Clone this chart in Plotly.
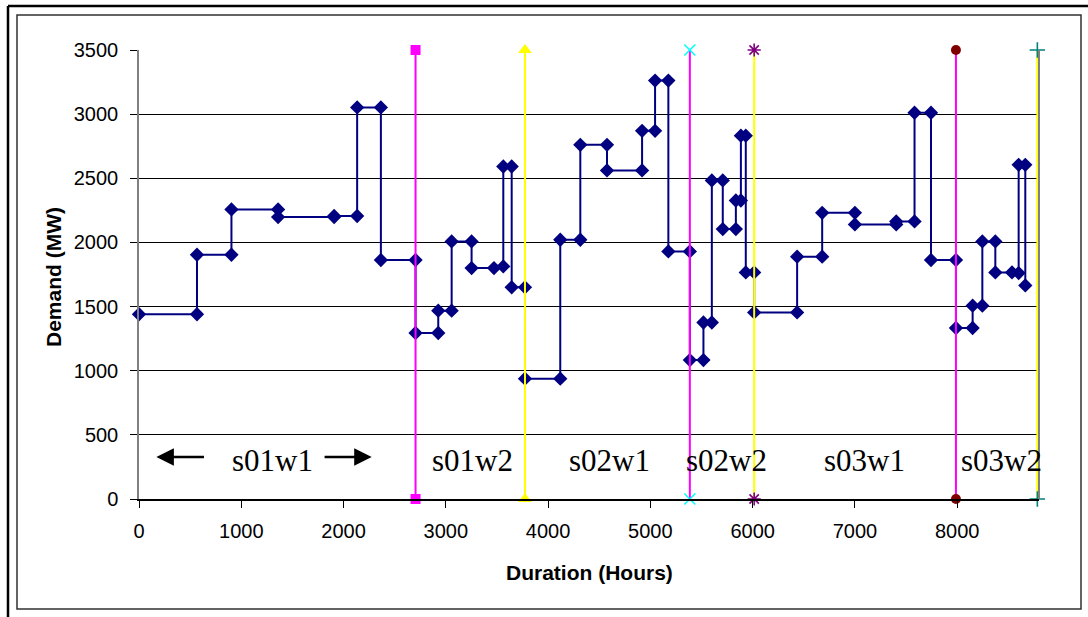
import plotly.graph_objects as go

# ---- data ----
duration_hours = [0, 567, 567, 904, 904, 1360, 1360, 1908, 1908, 2133, 2133, 2365,
                  2365, 2704, 2704, 2926, 2926, 3057, 3057, 3252, 3252, 3471, 3562,
                  3562, 3644, 3644, 3774, 3774, 4119, 4119, 4315, 4315, 4576, 4576,
                  4919, 4919, 5046, 5046, 5176, 5176, 5386, 5386, 5519, 5519, 5601,
                  5601, 5708, 5708, 5836, 5836, 5885, 5885, 5933, 5933, 6015, 6015,
                  6435, 6435, 6680, 6680, 7000, 7000, 7404, 7404, 7583, 7583, 7744,
                  7744, 7988, 7988, 8151, 8151, 8246, 8246, 8373, 8373, 8536, 8601,
                  8601, 8666, 8666]
demand_mw = [1440, 1440, 1904, 1904, 2257, 2257, 2198, 2198, 2206, 2206, 3052, 3052,
             1863, 1863, 1294, 1294, 1468, 1468, 2008, 2008, 1800, 1800, 1813,
             2592, 2592, 1650, 1650, 938, 938, 2021, 2021, 2761, 2761, 2561,
             2561, 2870, 2870, 3262, 3262, 1930, 1930, 1083, 1083, 1376, 1376,
             2483, 2483, 2104, 2104, 2327, 2327, 2832, 2832, 1766, 1766, 1454,
             1454, 1889, 1889, 2231, 2231, 2140, 2140, 2164, 2164, 3011, 3011,
             1863, 1863, 1333, 1333, 1507, 1507, 2008, 2008, 1766, 1766, 1761,
             2605, 2605, 1665]

boundary_hours = [2704, 3774, 5386, 6015, 7988, 8784]
boundary_range = [0, 3500]

period_labels = ["s01w1", "s01w2", "s02w1", "s02w2", "s03w1", "s03w2"]
period_label_x = [1304, 3265, 4596, 5741, 7096, 8431]
period_label_y = 302

x_ticks = [0, 1000, 2000, 3000, 4000, 5000, 6000, 7000, 8000]
y_ticks = [0, 500, 1000, 1500, 2000, 2500, 3000, 3500]

# ---- styles ----
boundary_line_colors = ["#FF00FF", "#FFFF00", "#FF00FF", "#FFFF00", "#FF00FF", "#FFFF00"]
boundary_marker_colors = ["#FF00FF", "#FFFF00", "#00FFFF", "#800080", "#800000", "#008080"]
boundary_symbols = ["square", "triangle-up", "x-thin-open", "asterisk-open", "circle", "cross-thin-open"]
boundary_sizes = [10, 12, 11, 11, 10, 11]

W, H = 1088, 617
L, R, T, B = 139, 49, 50, 118
PW = W - L - R
PH = H - T - B


def px_x(px):
    return (px - L) / PW


def px_y(py):
    return (H - B - py) / PH


fig = go.Figure()

fig.add_trace(go.Scatter(
    x=duration_hours, y=demand_mw, mode="lines+markers",
    line=dict(color="#000080", width=2),
    marker=dict(symbol="diamond", size=11, color="#000080"),
    showlegend=False, cliponaxis=False,
))

for i, xb in enumerate(boundary_hours):
    sym = boundary_symbols[i]
    open_sym = sym.endswith("open")
    fig.add_trace(go.Scatter(
        x=[xb, xb], y=boundary_range, mode="lines+markers",
        line=dict(color=boundary_line_colors[i], width=2),
        marker=dict(symbol=sym, size=boundary_sizes[i], color=boundary_marker_colors[i],
                    line=dict(color=boundary_marker_colors[i], width=1.6 if open_sym else 0)),
        showlegend=False, cliponaxis=False,
    ))

annotations = []
for lab, lx in zip(period_labels, period_label_x):
    annotations.append(dict(
        x=lx, y=period_label_y, xref="x", yref="y", text=lab, showarrow=False,
        font=dict(family="Liberation Serif, Times New Roman, serif", size=31, color="black"),
        xanchor="center", yanchor="middle",
    ))

# arrows around s01w1
annotations.append(dict(x=170, y=327, ax=650, ay=327, xref="x", yref="y", axref="x", ayref="y",
                        text="", showarrow=True, arrowhead=2, arrowsize=1.4, arrowwidth=2.5,
                        arrowcolor="black"))
annotations.append(dict(x=2275, y=327, ax=1800, ay=327, xref="x", yref="y", axref="x", ayref="y",
                        text="", showarrow=True, arrowhead=2, arrowsize=1.4, arrowwidth=2.5,
                        arrowcolor="black"))

# axis titles
annotations.append(dict(x=0.5, y=px_y(572), xref="paper", yref="paper", text="<b>Duration (Hours)</b>",
                        showarrow=False, xanchor="center", yanchor="middle",
                        font=dict(family="Liberation Sans, Arial, sans-serif", size=21, color="black")))
annotations.append(dict(x=px_x(53), y=px_y(277), xref="paper", yref="paper", text="<b>Demand (MW)</b>",
                        showarrow=False, xanchor="center", yanchor="middle", textangle=-90,
                        font=dict(family="Liberation Sans, Arial, sans-serif", size=21, color="black")))

shapes = [
    # plot area right border
    dict(type="line", xref="paper", yref="paper", x0=1, x1=1, y0=0, y1=1,
         line=dict(color="#808080", width=2)),
    # inner chart border
    dict(type="rect", xref="paper", yref="paper", x0=px_x(17), x1=px_x(1081), y0=px_y(609), y1=px_y(15),
         line=dict(color="#303030", width=1.5)),
    # outer frame (left and top)
    dict(type="line", xref="paper", yref="paper", x0=px_x(8), x1=px_x(8), y0=px_y(625), y1=px_y(6),
         line=dict(color="black", width=2.5)),
    dict(type="line", xref="paper", yref="paper", x0=px_x(8), x1=px_x(1095), y0=px_y(6), y1=px_y(6),
         line=dict(color="black", width=2.5)),
]

fig.update_layout(
    width=W, height=H,
    margin=dict(l=L, r=R, t=T, b=B, pad=0),
    paper_bgcolor="white", plot_bgcolor="white",
    showlegend=False,
    annotations=annotations,
    shapes=shapes,
    font=dict(family="Liberation Sans, Arial, sans-serif", size=20, color="black"),
    xaxis=dict(range=[0, 8800], tickvals=x_ticks, ticktext=[str(v) for v in x_ticks],
               ticks="outside", ticklen=7, tickcolor="black", tickwidth=1,
               showline=True, linecolor="black", linewidth=1.5, showgrid=False, zeroline=False,
               tickfont=dict(size=20, color="black"), ticklabelstandoff=6),
    yaxis=dict(range=[0, 3500], tickvals=y_ticks, ticktext=[str(v) for v in y_ticks],
               ticks="outside", ticklen=7, tickcolor="black", tickwidth=1,
               showline=True, linecolor="#808080", linewidth=1.5, showgrid=True,
               gridcolor="black", gridwidth=1, zeroline=False,
               tickfont=dict(size=20, color="black"), ticklabelstandoff=8),
)

fig.write_html("out.html")
